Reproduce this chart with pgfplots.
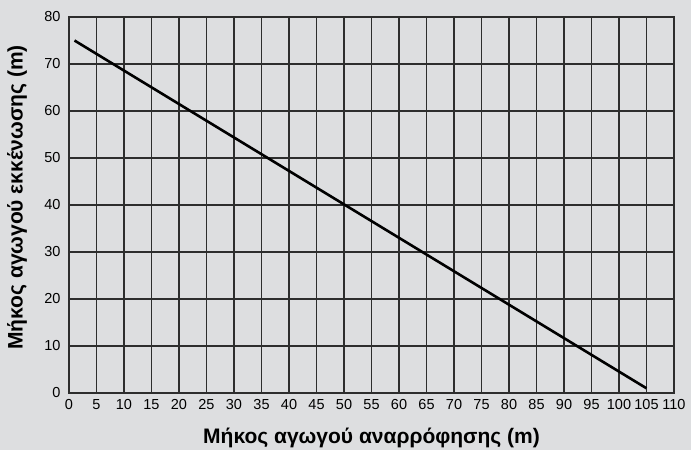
\documentclass[border=0pt]{standalone}
\usepackage{pgfplots}
\pgfplotsset{compat=1.18}
\usepackage{fontspec}
\setmainfont{Liberation Sans}
\definecolor{bg}{RGB}{221,222,224}
\definecolor{gridc}{RGB}{45,45,45}
\begin{document}
\begin{tikzpicture}[x=1pt,y=1pt]
  \fill[bg] (0,0) rectangle (691,450);
  \begin{axis}[
      at={(69pt,57pt)}, anchor=south west,
      scale only axis,
      width=605pt, height=376pt,
      xmin=0, xmax=110, ymin=0, ymax=80,
      xtick={0,5,...,110}, ytick={0,10,...,80},
      grid=major,
      major grid style={gridc, line width=1.2pt},
      axis line style={gridc, line width=1.2pt},
      tick style={draw=none},
      /pgf/number format/assume math mode=true,
      tick label style={font=\fontsize{14.5}{17}\selectfont, text=black},
      xticklabel style={yshift=-3pt},
      yticklabel style={xshift=-5pt},
      xlabel={\fontsize{21}{24}\selectfont\bfseries Μήκος αγωγού αναρρόφησης (m)},
      ylabel={\fontsize{21}{24}\selectfont\bfseries Μήκος αγωγού εκκένωσης (m)},
      xlabel style={at={(axis description cs:0.5,-0.12)}, anchor=center},
      ylabel style={at={(axis description cs:-0.086,0.52)}, anchor=center},
    ]
    \addplot[black, line width=2.6pt] coordinates {(1,75) (105,1)};
  \end{axis}
\end{tikzpicture}
\end{document}
